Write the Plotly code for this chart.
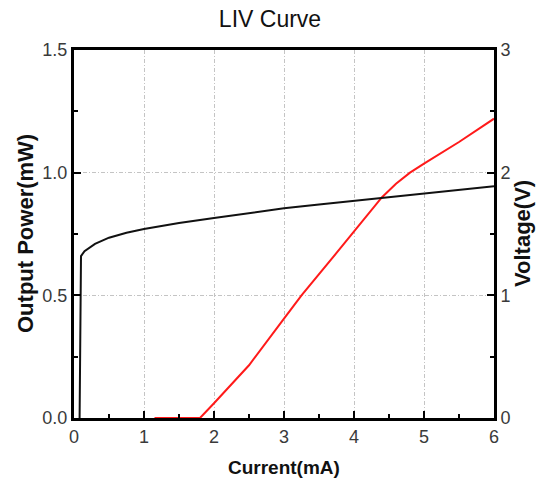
import plotly.graph_objects as go

# Voltage (black, right axis)
v_current = [0.08, 0.09, 0.1, 0.15, 0.2, 0.3, 0.5, 0.75, 1.0, 1.5, 2.0, 2.5, 3.0, 3.5, 4.0, 4.5, 5.0, 5.5, 6.0]
voltage = [0.0, 1.30, 1.32, 1.36, 1.38, 1.42, 1.47, 1.51, 1.54, 1.59, 1.63, 1.67, 1.71, 1.74, 1.77, 1.805, 1.83, 1.86, 1.89]

# Output power (red, left axis)
p_current = [1.15, 1.5, 1.8, 2.0, 2.5, 3.0, 3.25, 3.8, 4.0, 4.2, 4.4, 4.6, 4.8, 5.0, 5.5, 6.0]
power = [0.0, 0.0, 0.0, 0.06, 0.215, 0.405, 0.5, 0.69, 0.76, 0.83, 0.90, 0.955, 1.0, 1.037, 1.125, 1.22]

x_ticks = [0, 1, 2, 3, 4, 5, 6]
y_ticks = [0.0, 0.5, 1.0, 1.5]
y2_ticks = [0, 1, 2, 3]

FONT = "Liberation Sans, Arial"

fig = go.Figure()
fig.add_trace(go.Scatter(x=p_current, y=power, mode="lines",
                         line=dict(color="#ff1a1a", width=2), yaxis="y", showlegend=False))
fig.add_trace(go.Scatter(x=v_current, y=voltage, mode="lines",
                         line=dict(color="#111111", width=2), yaxis="y2", showlegend=False))

tickfont = dict(family=FONT, size=18, color="#3a3a3a")
grid = dict(showgrid=True, gridcolor="#c4c4c4", griddash="4px,2px,1px,2px", gridwidth=1)
minor_common = dict(ticks="inside", ticklen=4, tickwidth=2, tickcolor="black", showgrid=False)

L, R, T, B = 74, 46, 50, 71
PW = 540 - L - R
PH = 489 - T - B

fig.update_layout(
    width=540, height=489,
    margin=dict(l=L, r=R, t=T, b=B),
    paper_bgcolor="white", plot_bgcolor="white",
    title=dict(text="LIV Curve", x=0.5, xanchor="center", y=1 - 19 / 489, yanchor="middle",
               font=dict(family=FONT, size=23, color="#111111")),
    xaxis=dict(range=[0, 6], tickvals=x_ticks, ticktext=[str(t) for t in x_ticks],
               ticks="inside", ticklen=7, tickwidth=2, tickcolor="black",
               minor=dict(dtick=0.5, **minor_common),
               showline=True, linecolor="black", linewidth=3, mirror=True,
               zeroline=False, tickfont=tickfont, automargin=False, **grid),
    yaxis=dict(range=[0, 1.5], tickvals=y_ticks, ticktext=["0.0", "0.5", "1.0", "1.5"],
               ticks="inside", ticklen=7, tickwidth=2, tickcolor="black",
               minor=dict(dtick=0.25, **minor_common),
               showline=True, linecolor="black", linewidth=3,
               zeroline=False, tickfont=tickfont, automargin=False, **grid),
    yaxis2=dict(range=[0, 3], tickvals=y2_ticks, ticktext=[str(t) for t in y2_ticks],
                overlaying="y", side="right",
                ticks="inside", ticklen=7, tickwidth=2, tickcolor="black",
                minor=dict(dtick=0.5, **minor_common),
                showline=True, linecolor="black", linewidth=3,
                showgrid=False, zeroline=False, tickfont=tickfont, automargin=False),
    annotations=[
        dict(text="<b>Current(mA)</b>", xref="paper", yref="paper", x=0.5, y=-(467 - (489 - B)) / PH,
             xanchor="center", yanchor="middle", showarrow=False,
             font=dict(family=FONT, size=19, color="#111111")),
        dict(text="<b>Output Power(mW)</b>", xref="paper", yref="paper", x=-(L - 25) / PW, y=0.5,
             xanchor="center", yanchor="middle", textangle=-90, showarrow=False,
             font=dict(family=FONT, size=22, color="#111111")),
        dict(text="<b>Voltage(V)</b>", xref="paper", yref="paper", x=1 + (522 - (540 - R)) / PW, y=0.5,
             xanchor="center", yanchor="middle", textangle=-90, showarrow=False,
             font=dict(family=FONT, size=22, color="#111111")),
    ],
)

fig.write_html("out.html", config={"displayModeBar": False},
               post_script="document.body.style.margin='0';document.body.style.padding='0';")
